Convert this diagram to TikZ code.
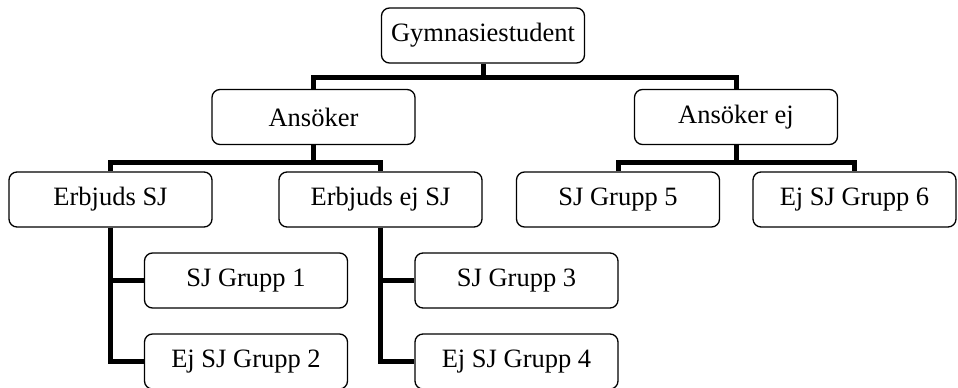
\documentclass[tikz,border=0pt]{standalone}
\usepackage{fontspec}
\setmainfont{Liberation Serif}
\usetikzlibrary{calc}
\begin{document}
\begin{tikzpicture}[x=1pt,y=-1pt,
  box/.style={draw=black,fill=white,line width=1.3pt,rounded corners=8pt,
    minimum width=203pt,minimum height=55pt,inner sep=0pt,
    font=\fontsize{26.5}{30}\selectfont},
  conn/.style={line width=5pt,draw=black,line join=miter}]
\useasboundingbox (0,0) rectangle (958,388);
\node[box] (G) at (483,35.5) {Gymnasiestudent};
\node[box] (A) at (313.5,117) {Ansöker};
\node[box] (AE) at (736,117) {Ansöker ej};
\node[box] (E1) at (110.5,199.5) {Erbjuds SJ};
\node[box] (E2) at (380.5,199.5) {Erbjuds ej SJ};
\node[box] (G5) at (618,199.5) {SJ Grupp 5};
\node[box] (G6) at (854.5,199.5) {Ej SJ Grupp 6};
\node[box] (G1) at (246,280.5) {SJ Grupp 1};
\node[box] (G2) at (246,361.5) {Ej SJ Grupp 2};
\node[box] (G3) at (516.5,280.5) {SJ Grupp 3};
\node[box] (G4) at (516.5,361.5) {Ej SJ Grupp 4};
\draw[conn] (A.north) |- ($(G.south)+(0,14)$) -| (AE.north);
\draw[conn] (G.south) -- ++(0,14);
\draw[conn] (E1.north) |- ($(A.south)+(0,17.5)$) -| (E2.north);
\draw[conn] (A.south) -- ++(0,17.5);
\draw[conn] (G5.north) |- ($(AE.south)+(0,17.5)$) -| (G6.north);
\draw[conn] (AE.south) -- ++(0,17.5);
\draw[conn] (E1.south) |- (G1.west);
\draw[conn] (E1.south) |- (G2.west);
\draw[conn] (E2.south) |- (G3.west);
\draw[conn] (E2.south) |- (G4.west);
\end{tikzpicture}
\end{document}
